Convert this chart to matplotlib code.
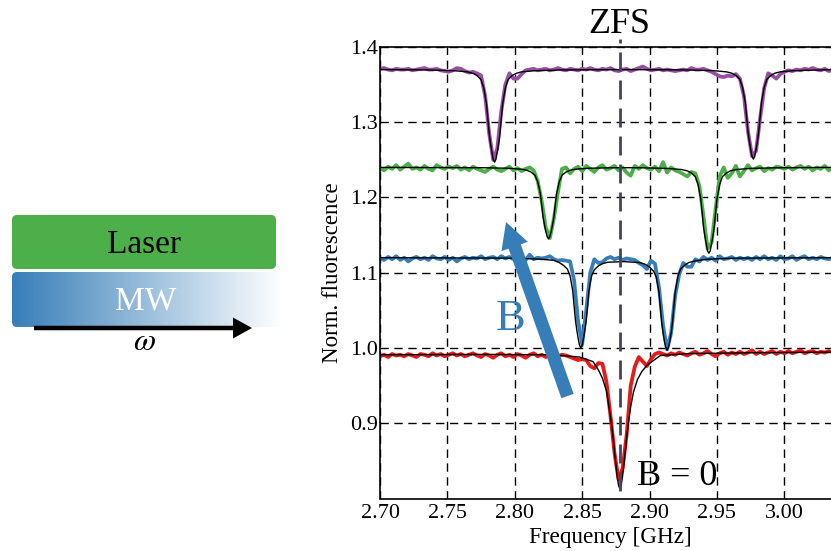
import numpy as np
import matplotlib
matplotlib.use("Agg")
import matplotlib.pyplot as plt
from matplotlib.patches import FancyBboxPatch, FancyArrow

plt.rcParams['font.family'] = ['Liberation Serif', 'DejaVu Serif']
plt.rcParams['mathtext.fontset'] = 'stix'

# measured traces, one value every 3 MHz from 2.700 GHz
freq = [round(2.70 + 0.003 * i, 3) for i in range(113)]

purple = [1.371, 1.372, 1.370, 1.369, 1.371, 1.370, 1.370, 1.371, 1.369, 1.370,
          1.371, 1.372, 1.370, 1.370, 1.371, 1.369, 1.368, 1.367, 1.369, 1.372,
          1.371, 1.368, 1.366, 1.367, 1.365, 1.362, 1.335, 1.285, 1.250, 1.265,
          1.315, 1.350, 1.365, 1.358, 1.358, 1.364, 1.369, 1.370, 1.371, 1.369,
          1.370, 1.371, 1.369, 1.370, 1.372, 1.370, 1.369, 1.371, 1.370, 1.369,
          1.371, 1.370, 1.372, 1.370, 1.369, 1.371, 1.370, 1.372, 1.369, 1.368,
          1.370, 1.371, 1.368, 1.370, 1.372, 1.374, 1.371, 1.369, 1.370, 1.371,
          1.369, 1.370, 1.369, 1.368, 1.369, 1.370, 1.369, 1.372, 1.370, 1.370,
          1.371, 1.369, 1.367, 1.364, 1.361, 1.360, 1.362, 1.361, 1.364, 1.358,
          1.335, 1.288, 1.255, 1.262, 1.305, 1.345, 1.365, 1.362, 1.358, 1.364,
          1.367, 1.369, 1.368, 1.370, 1.369, 1.371, 1.370, 1.372, 1.370, 1.369,
          1.371, 1.368, 1.370]

green = [1.239, 1.236, 1.241, 1.238, 1.243, 1.237, 1.241, 1.245, 1.238, 1.240,
         1.237, 1.242, 1.238, 1.236, 1.243, 1.240, 1.238, 1.241, 1.239, 1.242,
         1.237, 1.240, 1.236, 1.241, 1.238, 1.236, 1.234, 1.238, 1.241, 1.237,
         1.235, 1.238, 1.241, 1.236, 1.239, 1.235, 1.238, 1.240, 1.236, 1.222,
         1.195, 1.160, 1.146, 1.172, 1.207, 1.238, 1.240, 1.232, 1.238, 1.241,
         1.235, 1.242, 1.238, 1.234, 1.240, 1.243, 1.237, 1.239, 1.242, 1.236,
         1.240, 1.233, 1.229, 1.242, 1.238, 1.243, 1.239, 1.237, 1.241, 1.235,
         1.247, 1.233, 1.240, 1.236, 1.234, 1.231, 1.228, 1.234, 1.232, 1.215,
         1.175, 1.132, 1.140, 1.185, 1.228, 1.240, 1.226, 1.232, 1.242, 1.228,
         1.235, 1.243, 1.236, 1.239, 1.241, 1.235, 1.239, 1.237, 1.241, 1.240,
         1.238, 1.241, 1.237, 1.240, 1.242, 1.238, 1.241, 1.236, 1.240, 1.238,
         1.242, 1.236, 1.240]

blue = [1.119, 1.117, 1.121, 1.118, 1.122, 1.117, 1.120, 1.115, 1.119, 1.121,
        1.118, 1.120, 1.117, 1.122, 1.119, 1.118, 1.121, 1.117, 1.120, 1.115,
        1.119, 1.121, 1.118, 1.120, 1.119, 1.122, 1.118, 1.120, 1.121, 1.118,
        1.122, 1.119, 1.121, 1.118, 1.120, 1.119, 1.117, 1.124, 1.118, 1.120,
        1.119, 1.120, 1.122, 1.118, 1.116, 1.117, 1.116, 1.115, 1.090, 1.035,
        1.005, 1.050, 1.100, 1.118, 1.113, 1.114, 1.119, 1.121, 1.118, 1.120,
        1.117, 1.119, 1.118, 1.117, 1.113, 1.110, 1.105, 1.116, 1.112, 1.080,
        1.030, 0.998, 1.020, 1.070, 1.098, 1.113, 1.108, 1.108, 1.118, 1.115,
        1.121, 1.117, 1.120, 1.116, 1.122, 1.118, 1.119, 1.121, 1.117, 1.120,
        1.118, 1.120, 1.117, 1.121, 1.118, 1.122, 1.118, 1.120, 1.117, 1.122,
        1.118, 1.119, 1.122, 1.117, 1.120, 1.122, 1.118, 1.120, 1.118, 1.121,
        1.119, 1.118, 1.120]

red = [0.989, 0.991, 0.988, 0.992, 0.990, 0.991, 0.989, 0.992, 0.990, 0.988,
       0.992, 0.991, 0.989, 0.993, 0.990, 0.992, 0.989, 0.991, 0.993, 0.990,
       0.992, 0.989, 0.991, 0.993, 0.990, 0.988, 0.992, 0.990, 0.987, 0.991,
       0.993, 0.989, 0.991, 0.988, 0.992, 0.990, 0.987, 0.991, 0.993, 0.989,
       0.991, 0.988, 0.990, 0.992, 0.989, 0.991, 0.990, 0.988, 0.986, 0.984,
       0.985, 0.984, 0.976, 0.973, 0.980, 0.979, 0.955, 0.910, 0.860, 0.825,
       0.840, 0.885, 0.950, 0.975, 0.988, 0.982, 0.976, 0.985, 0.992, 0.994,
       0.992, 0.990, 0.993, 0.991, 0.994, 0.992, 0.990, 0.993, 0.995, 0.991,
       0.993, 0.996, 0.992, 0.989, 0.993, 0.995, 0.991, 0.994, 0.992, 0.995,
       0.992, 0.994, 0.997, 0.992, 0.995, 0.992, 0.994, 0.996, 0.992, 0.995,
       0.993, 0.996, 0.993, 0.995, 0.997, 0.993, 0.995, 0.996, 0.993, 0.995,
       0.994, 0.996, 0.994]

# black fit curves, read separately
fit_purple_x = [2.70, 2.735, 2.755, 2.765, 2.769, 2.772, 2.775, 2.777, 2.779, 2.780,
                2.781, 2.782, 2.783, 2.784, 2.785, 2.786, 2.787, 2.788, 2.789, 2.790,
                2.791, 2.793, 2.795, 2.798, 2.801, 2.805, 2.815, 2.835, 2.88, 2.927,
                2.947, 2.957, 2.961, 2.964, 2.967, 2.969, 2.971, 2.972, 2.973, 2.974,
                2.975, 2.976, 2.977, 2.978, 2.979, 2.980, 2.981, 2.982, 2.983, 2.985,
                2.987, 2.990, 2.993, 2.997, 3.007, 3.027, 3.036]
fit_purple_y = [1.370, 1.3695, 1.3685, 1.367, 1.365, 1.362, 1.3565, 1.3454, 1.3245, 1.3048,
                1.2851, 1.2716, 1.2605, 1.2507, 1.247, 1.2507, 1.2605, 1.2716, 1.2851, 1.3048,
                1.3245, 1.3454, 1.3565, 1.362, 1.365, 1.367, 1.3685, 1.3695, 1.370, 1.3695,
                1.3686, 1.367, 1.3652, 1.3623, 1.3569, 1.3462, 1.326, 1.3069, 1.2879, 1.2748,
                1.2641, 1.2546, 1.251, 1.2546, 1.2641, 1.2748, 1.2879, 1.3069, 1.326, 1.3462,
                1.3569, 1.3623, 1.3652, 1.367, 1.3686, 1.3695, 1.370]

fit_green_x = [2.70, 2.775, 2.795, 2.805, 2.809, 2.812, 2.815, 2.817, 2.819, 2.820,
               2.821, 2.822, 2.823, 2.824, 2.825, 2.826, 2.827, 2.828, 2.829, 2.830,
               2.831, 2.833, 2.835, 2.838, 2.841, 2.845, 2.855, 2.875, 2.885, 2.894,
               2.914, 2.924, 2.928, 2.931, 2.934, 2.936, 2.938, 2.939, 2.940, 2.941,
               2.942, 2.943, 2.944, 2.945, 2.946, 2.947, 2.948, 2.949, 2.950, 2.952,
               2.954, 2.957, 2.960, 2.964, 2.974, 2.994, 3.036]
fit_green_y = [1.240, 1.2396, 1.2389, 1.2376, 1.2362, 1.2338, 1.2295, 1.221, 1.205, 1.190,
               1.174, 1.164, 1.155, 1.148, 1.145, 1.148, 1.155, 1.164, 1.174, 1.190,
               1.205, 1.221, 1.2295, 1.2338, 1.2362, 1.2376, 1.2389, 1.2396, 1.2396, 1.2395,
               1.2386, 1.2371, 1.2354, 1.2326, 1.2275, 1.2172, 1.198, 1.180, 1.161, 1.149,
               1.139, 1.129, 1.126, 1.129, 1.139, 1.149, 1.161, 1.180, 1.198, 1.2172,
               1.2275, 1.2326, 1.2354, 1.2371, 1.2386, 1.2395, 1.240]

fit_blue_x = [2.70, 2.799, 2.819, 2.829, 2.833, 2.836, 2.839, 2.841, 2.843, 2.844,
              2.845, 2.846, 2.847, 2.848, 2.849, 2.850, 2.851, 2.852, 2.853, 2.854,
              2.855, 2.857, 2.859, 2.862, 2.865, 2.869, 2.881, 2.893, 2.897, 2.900,
              2.903, 2.905, 2.907, 2.908, 2.909, 2.910, 2.911, 2.912, 2.913, 2.914,
              2.915, 2.916, 2.917, 2.918, 2.919, 2.921, 2.923, 2.926, 2.929, 2.933,
              2.943, 2.963, 3.036]
fit_blue_y = [1.120, 1.1194, 1.118, 1.1165, 1.1135, 1.110, 1.105, 1.096, 1.076, 1.056,
              1.037, 1.024, 1.013, 1.004, 1.000, 1.004, 1.013, 1.024, 1.037, 1.056,
              1.076, 1.096, 1.104, 1.109, 1.112, 1.114, 1.1148, 1.1135, 1.111, 1.1075,
              1.102, 1.094, 1.074, 1.054, 1.034, 1.020, 1.009, 1.001, 0.997, 1.001,
              1.009, 1.020, 1.034, 1.054, 1.074, 1.095, 1.105, 1.110, 1.1135, 1.1155,
              1.118, 1.1194, 1.120]

fit_red_x = [2.70, 2.778, 2.828, 2.848, 2.858, 2.862, 2.865, 2.868, 2.870, 2.872,
             2.873, 2.874, 2.875, 2.876, 2.877, 2.878, 2.879, 2.880, 2.881, 2.882,
             2.883, 2.884, 2.886, 2.888, 2.891, 2.894, 2.898, 2.908, 2.928, 2.978,
             3.036]
fit_red_y = [0.991, 0.9915, 0.9910, 0.988, 0.982, 0.971, 0.960, 0.943, 0.920, 0.896,
             0.880, 0.862, 0.845, 0.829, 0.817, 0.813, 0.818, 0.830, 0.846, 0.863,
             0.881, 0.897, 0.922, 0.941, 0.958, 0.968, 0.977, 0.990, 0.9925, 0.9937,
             0.9945]

xticks = [2.70, 2.75, 2.80, 2.85, 2.90, 2.95, 3.00]
yticks = [0.9, 1.0, 1.1, 1.2, 1.3, 1.4]
zfs = 2.878

W, H = 831, 551
fig = plt.figure(figsize=(W / 100, H / 100), dpi=100)
ax = fig.add_axes([380 / W, 1 - 498.5 / H, (W - 380) / W, 451.5 / H])

ax.plot(freq, purple, color='#984ea3', lw=2.7)
ax.plot(freq, green, color='#4daf4a', lw=2.7)
ax.plot(freq, blue, color='#377eb8', lw=2.7)
ax.plot(freq, red, color='#e41a1c', lw=2.7)
for fx, fy in [(fit_purple_x, fit_purple_y), (fit_green_x, fit_green_y),
               (fit_blue_x, fit_blue_y), (fit_red_x, fit_red_y)]:
    ax.plot(fx, fy, color='black', lw=1.0)

ax.set_xlim(2.70, 3.0346)
ax.set_ylim(0.8, 1.4)
ax.set_xticks(xticks)
ax.set_xticklabels(['%.2f' % v for v in xticks])
ax.set_yticks(yticks)
ax.set_yticklabels(['%.1f' % v for v in yticks])
ax.tick_params(length=0, labelsize=16)
ax.tick_params(axis='x', pad=4)
ax.tick_params(axis='y', pad=1.5)
ax.set_xlabel('Frequency [GHz]', fontsize=16.7, labelpad=3, x=(610.5 - 380) / 451)
ax.set_ylabel('Norm. fluorescence', fontsize=16.5, labelpad=5)
ax.grid(True, color='black', lw=1.0, linestyle=(0, (6, 4)))
ax.set_axisbelow(True)
ax.spines['right'].set_visible(False)
for side in ['left', 'top', 'bottom']:
    ax.spines[side].set_linewidth(1.2)

ax.plot([zfs, zfs], [1.41, 0.8], color='#44445f', lw=2.0, clip_on=False,
        linestyle=(5.4, (6.84, 3.24)), dash_capstyle='butt', zorder=5)

# overlay in pixel coordinates for the schematic and the annotations
over = fig.add_axes([0, 0, 1, 1], facecolor='none')
over.set_axis_off()

over.add_patch(FancyBboxPatch((12, 215), 264, 54, boxstyle='round,pad=0,rounding_size=5',
                              fc='#4daf4a', ec='none'))
over.text(144.5, 253, 'Laser', fontsize=24, ha='center', va='baseline', color='black')

mw_box = FancyBboxPatch((12, 272), 270, 55, boxstyle='round,pad=0,rounding_size=5',
                        fc='none', ec='none')
over.add_patch(mw_box)
ramp = np.linspace(0, 1, 256)[None, :, None]
start = np.array([0x37, 0x7e, 0xb8]) / 255
mw_img = start + (1 - start) * ramp
im = over.imshow(mw_img, extent=[12, 282, 327, 272], aspect='auto', interpolation='bilinear')
im.set_clip_path(mw_box)
over.text(145.5, 310, 'MW', fontsize=24, ha='center', va='baseline', color='white')

over.add_patch(FancyArrow(34, 328, 218, 0, width=4.5, head_width=21, head_length=19,
                          length_includes_head=True, fc='black', ec='black', lw=0))
over.text(144, 350, r'$\omega$', fontsize=23, ha='center', va='baseline', color='black')

over.add_patch(FancyArrow(567.5, 396, -61.5, -174, width=13, head_width=28, head_length=26,
                          length_includes_head=True, fc='#377eb8', ec='#377eb8', lw=0))
over.text(510.5, 330, 'B', fontsize=32, ha='center', va='baseline', color='#377eb8')
over.text(619, 33, 'ZFS', fontsize=26, ha='center', va='baseline', color='black')
over.text(677, 485, 'B = 0', fontsize=26, ha='center', va='baseline', color='black')

over.set_xlim(0, W)
over.set_ylim(H, 0)

fig.savefig('out.png', dpi=100)
